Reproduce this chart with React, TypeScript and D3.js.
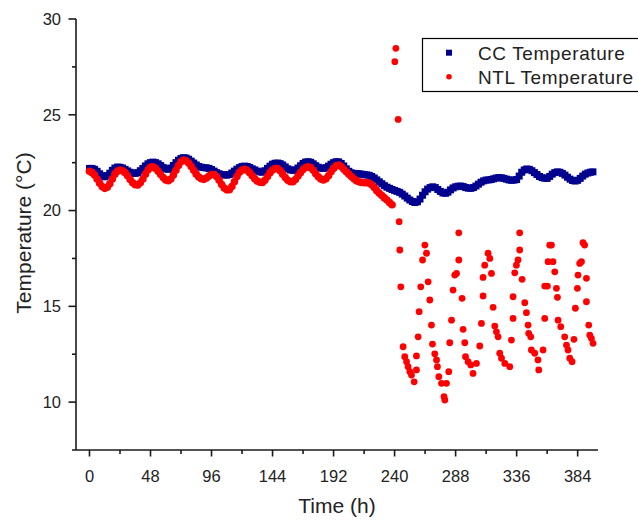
import React from 'react';
import * as d3 from 'd3';

// CC temperature, sampled every 2 h from t = 0
const ccStep = 2;
const ccTemp = [
  22.2, 22.2, 22.15, 22.05, 21.92, 21.82, 21.76, 21.82, 21.95, 22.1,
  22.22, 22.27, 22.26, 22.22, 22.15, 22.07, 22.0, 21.95, 21.94, 21.98,
  22.08, 22.2, 22.33, 22.44, 22.5, 22.53, 22.5, 22.44, 22.35, 22.25,
  22.18, 22.15, 22.22, 22.35, 22.5, 22.63, 22.72, 22.76, 22.74, 22.68,
  22.58, 22.48, 22.38, 22.3, 22.26, 22.24, 22.23, 22.2, 22.14, 22.06,
  21.98, 21.92, 21.88, 21.86, 21.85, 21.88, 21.96, 22.06, 22.16, 22.24,
  22.3, 22.32, 22.3, 22.25, 22.18, 22.12, 22.06, 22.02, 22.0, 22.08,
  22.2, 22.32, 22.42, 22.47, 22.48, 22.45, 22.38, 22.28, 22.18, 22.12,
  22.1, 22.12, 22.22, 22.34, 22.46, 22.53, 22.55, 22.52, 22.44, 22.34,
  22.26, 22.21, 22.2, 22.24, 22.32, 22.42, 22.5, 22.55, 22.54, 22.46,
  22.33, 22.18, 22.05, 21.97, 21.94, 21.93, 21.92, 21.9, 21.88, 21.86,
  21.84, 21.78, 21.7, 21.6, 21.5, 21.4, 21.3, 21.22, 21.16, 21.1,
  21.05, 21.0, 20.95, 20.86, 20.76, 20.65, 20.55, 20.47, 20.42, 20.46,
  20.6, 20.8, 20.98, 21.12, 21.2, 21.24, 21.2, 21.1, 21.0, 20.92,
  20.9, 20.96, 21.08, 21.18, 21.24, 21.27, 21.28, 21.25, 21.2, 21.17,
  21.16, 21.2, 21.28, 21.38, 21.48, 21.55, 21.59, 21.6, 21.62, 21.66,
  21.7, 21.72, 21.71, 21.68, 21.64, 21.6, 21.58, 21.59, 21.62, 21.8,
  22.0, 22.12, 22.17, 22.15, 22.08, 21.98, 21.88, 21.78, 21.72, 21.69,
  21.68, 21.78, 21.9, 21.98, 22.02, 22.0, 21.94, 21.85, 21.74, 21.64,
  21.57, 21.54, 21.58, 21.68, 21.8, 21.9, 21.96, 22.0, 22.02,
];

// NTL temperature, dense part sampled every 2 h from t = 0 to 238
const ntlStep = 2;
const ntlDenseTemp = [
  22.05, 21.98, 21.85, 21.65, 21.43, 21.25, 21.16, 21.22, 21.4, 21.65,
  21.9, 22.05, 22.11, 22.08, 21.98, 21.82, 21.62, 21.45, 21.35, 21.34,
  21.45, 21.65, 21.9, 22.12, 22.26, 22.28, 22.2, 22.05, 21.88, 21.72,
  21.6, 21.56, 21.65, 21.85, 22.1, 22.35, 22.55, 22.64, 22.6, 22.48,
  22.3, 22.1, 21.9, 21.75, 21.66, 21.63, 21.7, 21.8, 21.88, 21.88,
  21.78, 21.58, 21.36, 21.18, 21.08, 21.09, 21.25, 21.5, 21.78, 22.0,
  22.12, 22.15, 22.1, 21.98, 21.82, 21.66, 21.54, 21.48, 21.47, 21.58,
  21.78, 21.98, 22.12, 22.19, 22.19, 22.08, 21.9, 21.72, 21.58, 21.5,
  21.51, 21.62, 21.8, 21.98, 22.14, 22.25, 22.29, 22.24, 22.1, 21.92,
  21.76, 21.65, 21.6, 21.66, 21.82, 22.02, 22.2, 22.33, 22.37, 22.3,
  22.16, 22.02, 21.9, 21.78, 21.66, 21.56, 21.5, 21.47, 21.46, 21.45,
  21.44, 21.35, 21.2, 21.04, 20.9, 20.78, 20.66, 20.55, 20.42, 20.3,
];

// NTL temperature, sparse part after t = 240 h
const ntlSparseTime = [
  240.2, 241.0, 242.8, 243.6, 244.1, 244.9, 246.7, 248.0, 249.4, 250.6,
  252.0, 253.3, 255.4, 257.2, 257.2, 258.5, 259.3, 260.6, 262.0, 263.8,
  265.1, 266.4, 267.7, 269.0, 269.8, 271.6, 273.0, 273.7, 274.8, 276.9,
  278.9, 279.5, 280.8, 282.6, 283.4, 284.8, 286.0, 287.3, 288.7, 290.5,
  290.5, 293.1, 293.9, 295.2, 295.8, 297.8, 299.9, 301.7, 304.4, 307.0,
  308.3, 309.6, 309.6, 310.9, 313.5, 314.9, 316.2, 317.5, 318.8, 320.1,
  321.4, 322.7, 324.1, 326.7, 330.6, 331.9, 333.2, 333.2, 334.5, 335.8,
  337.1, 338.4, 338.4, 340.3, 342.4, 343.7, 345.0, 345.5, 347.1, 347.6,
  350.2, 352.8, 353.4, 356.8, 358.1, 358.1, 360.2, 360.7, 364.6, 362.0,
  363.4, 366.0, 367.3, 368.1, 368.6, 370.7, 373.8, 375.2, 376.4, 377.8,
  379.6, 381.1, 382.2, 383.8, 384.3, 385.6, 387.0, 388.2, 389.5, 390.9,
  390.9, 392.7, 393.5, 394.8, 396.1,
];
const ntlSparseTemp = [
  27.77, 28.47, 24.76, 19.42, 17.94, 16.02, 12.89, 12.37, 12.11, 11.85,
  11.59, 11.41, 11.06, 11.68, 12.41, 13.41, 14.72, 16.02, 17.42, 18.2,
  17.77, 16.28, 15.33, 14.02, 13.03, 12.52, 12.2, 11.85, 11.33, 10.98,
  10.28, 10.11, 10.98, 11.59, 13.1, 14.28, 15.85, 16.63, 16.72, 17.42,
  18.84, 15.42, 13.8, 13.1, 12.37, 12.11, 11.94, 11.5, 12.02, 12.93,
  14.11, 15.54, 16.51, 17.15, 17.77, 17.5, 16.72, 14.95, 13.97, 13.67,
  13.41, 12.55, 12.29, 12.02, 11.85, 13.24, 14.37, 15.5, 16.75, 17.15,
  17.42, 17.94, 18.84, 16.41, 15.19, 14.67, 14.02, 13.59, 13.41, 12.72,
  12.55, 12.2, 11.68, 12.72, 14.37, 16.06, 16.06, 17.33, 17.33, 18.2,
  18.2, 16.8, 15.94, 15.47, 14.28, 13.94, 13.41, 12.98, 12.72, 12.29,
  12.11, 13.28, 14.9, 15.94, 16.63, 17.24, 17.33, 18.32, 18.2, 16.46,
  15.24, 14.02, 13.5, 13.33, 13.07,
];

const xMajorTicks = [0, 48, 96, 144, 192, 240, 288, 336, 384];
const xMinorTicks = [24, 72, 120, 168, 216, 264, 312, 360];
const yMajorTicks = [10, 15, 20, 25, 30];
const yMinorTicks = [12.5, 17.5, 22.5, 27.5];
const seriesNames = ['CC Temperature', 'NTL Temperature'];

const W = 638;
const H = 520;
const FONT = '"Liberation Sans", Arial, sans-serif';
const BLUE = '#00008f';
const RED = '#ff0000';
const AXIS = '#1a1a1a';
const TEXT = '#222';

export default function App() {
  const x = d3.scaleLinear().domain([-10.6, 400]).range([76, 598]);
  const y = d3.scaleLinear().domain([7.5, 30]).range([450, 19]);

  const cc = ccTemp.map((v, i) => ({ t: i * ccStep, v }));
  const ntlDense = ntlDenseTemp.map((v, i) => ({ t: i * ntlStep, v }));
  const ntlSparse = ntlSparseTime.map((t, i) => ({ t, v: ntlSparseTemp[i] }));
  const sq = 7;

  return (
    <svg
      width={W}
      height={H}
      viewBox={`0 0 ${W} ${H}`}
      style={{ position: 'absolute', left: 0, top: 0, background: '#fff' }}
      fontFamily={FONT}
    >
      <rect x={0} y={0} width={W} height={H} fill="#fff" />
      {/* data */}
      <g>
        {cc.map((d, i) => (
          <rect key={i} x={x(d.t) - sq / 2} y={y(d.v) - sq / 2} width={sq} height={sq} fill={BLUE} />
        ))}
      </g>
      <g>
        {ntlDense.map((d, i) => (
          <circle key={i} cx={x(d.t)} cy={y(d.v)} r={3.8} fill={RED} />
        ))}
        {ntlSparse.map((d, i) => (
          <circle key={'s' + i} cx={x(d.t)} cy={y(d.v)} r={3.4} fill={RED} />
        ))}
      </g>
      {/* y axis */}
      <g stroke={AXIS} strokeWidth={1.6}>
        <line x1={x(-10.6)} x2={x(-10.6)} y1={y(30)} y2={y(7.5)} />
        {yMajorTicks.map((t) => (
          <line key={t} x1={76 - 7.5} x2={76} y1={y(t)} y2={y(t)} />
        ))}
        {yMinorTicks.map((t) => (
          <line key={t} x1={76 - 4} x2={76} y1={y(t)} y2={y(t)} />
        ))}
      </g>
      <g fill={TEXT} fontSize={16.5} textAnchor="end">
        {yMajorTicks.map((t) => (
          <text key={t} x={61} y={y(t)} dy="0.36em">
            {t}
          </text>
        ))}
      </g>
      {/* x axis */}
      <g stroke={AXIS} strokeWidth={1.6}>
        <line x1={72} x2={x(400)} y1={450} y2={450} />
        {xMajorTicks.map((t) => (
          <line key={t} x1={x(t)} x2={x(t)} y1={450} y2={456.5} />
        ))}
        {xMinorTicks.map((t) => (
          <line key={t} x1={x(t)} x2={x(t)} y1={450} y2={454} />
        ))}
      </g>
      <g fill={TEXT} fontSize={16.5} textAnchor="middle">
        {xMajorTicks.map((t) => (
          <text key={t} x={x(t)} y={482}>
            {t}
          </text>
        ))}
      </g>
      <text x={337} y={513} fontSize={21} textAnchor="middle" fill={TEXT}>
        Time (h)
      </text>
      <text
        transform={`translate(31,233) rotate(-90)`}
        fontSize={21}
        textAnchor="middle"
        fill={TEXT}
      >
        Temperature (°C)
      </text>
      {/* legend */}
      <rect x={422.5} y={38.5} width={222} height={53} fill="#fff" stroke="#000" strokeWidth={1.2} />
      <rect x={449 - 3} y={52.7 - 3} width={6} height={6} fill={BLUE} />
      <circle cx={449} cy={76.7} r={2.8} fill={RED} />
      <text x={478} y={59.5} fontSize={19} letterSpacing={0.6} fill={TEXT}>
        {seriesNames[0]}
      </text>
      <text x={478} y={83.5} fontSize={19} letterSpacing={0.6} fill={TEXT}>
        {seriesNames[1]}
      </text>
    </svg>
  );
}
